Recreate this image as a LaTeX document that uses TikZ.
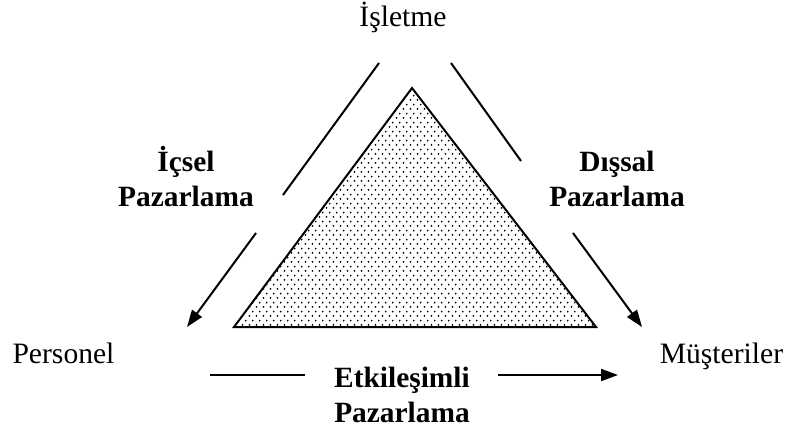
\documentclass[tikz,border=0pt]{standalone}
\usepackage{fontspec}
\setmainfont{Liberation Serif}
\usetikzlibrary{arrows.meta,patterns}

% staggered dot fill for the central triangle
\pgfdeclarepatternformonly{sparsedots}{\pgfpointorigin}{\pgfqpoint{3.35pt}{4.4pt}}{\pgfqpoint{3.35pt}{4.4pt}}{%
  \pgfpathcircle{\pgfqpoint{0.8pt}{1.1pt}}{0.5pt}%
  \pgfpathcircle{\pgfqpoint{2.475pt}{3.3pt}}{0.5pt}%
  \pgfusepath{fill}}

\begin{document}
\begin{tikzpicture}[x=0.5pt,y=-0.5pt,
  party/.style={inner sep=0pt,anchor=base,font=\fontsize{14.8}{16}\selectfont},
  lbl/.style={inner sep=0pt,anchor=base,align=center,font=\fontsize{14.7}{17.5}\selectfont\bfseries},
  flow/.style={line width=1pt},
  flowtip/.style={line width=1pt,-{Triangle[length=8.5pt,width=6pt]}}]
\useasboundingbox (0,0) rectangle (790,432);

% central triangle
\filldraw[line width=1pt,pattern=sparsedots,pattern color=black]
  (412,88) coordinate (apex) -- (596,327) coordinate (br) -- (234,327) coordinate (bl) -- cycle;

% parties
\node[party] (isletme) at (403,27) {İşletme};
\node[party] (personel) at (63.5,363) {Personel};
\node[party] (musteri) at (721.5,363) {Müşteriler};

% marketing labels (anchored on the baseline of the last line)
\node[lbl] (icsel) at (186,207) {İçsel\\Pazarlama};
\node[lbl] (dissal) at (617,207) {Dışsal\\Pazarlama};
\node[lbl] (etkilesim) at (402,422) {Etkileşimli\\Pazarlama};

% arrow segments
\coordinate (l1) at (379,63);  \coordinate (l2) at (283,195);
\coordinate (l3) at (256,233); \coordinate (l4) at (187,327);
\coordinate (r1) at (451,63);  \coordinate (r2) at (521,161);
\coordinate (r3) at (573,233); \coordinate (r4) at (642,327);
\coordinate (b1) at (210,375); \coordinate (b2) at (305,375);
\coordinate (b3) at (498,375); \coordinate (b4) at (618,375);

\draw[flow] (l1) -- (l2);
\draw[flowtip] (l3) -- (l4);
\draw[flow] (r1) -- (r2);
\draw[flowtip] (r3) -- (r4);
\draw[flow] (b1) -- (b2);
\draw[flowtip] (b3) -- (b4);
\end{tikzpicture}
\end{document}
